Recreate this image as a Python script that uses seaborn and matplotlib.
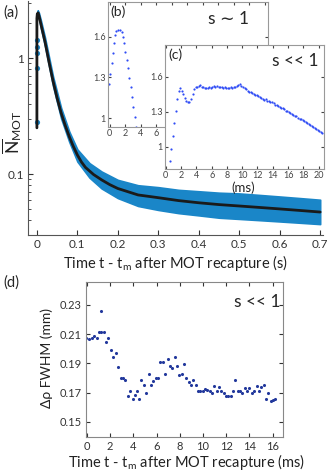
import numpy as np
import pandas as pd
import matplotlib
matplotlib.use("Agg")
import matplotlib.pyplot as plt
import matplotlib.ticker as mticker
import seaborn as sns

# ---------------- data ----------------
# (a) fit curve (black)
t_fit = [0.000, 0.000, 0.001, 0.003, 0.006, 0.010, 0.015, 0.020, 0.030, 0.040, 0.050,
         0.060, 0.070, 0.080, 0.090, 0.100, 0.110, 0.120, 0.140, 0.160, 0.180, 0.200, 0.250,
         0.300, 0.350, 0.400, 0.450, 0.500, 0.550, 0.600, 0.650, 0.700]
n_fit = [0.25, 2.20, 2.40, 2.45, 2.25, 1.95, 1.64, 1.38, 0.92, 0.63, 0.45,
         0.335, 0.262, 0.210, 0.173, 0.146, 0.127, 0.114, 0.099, 0.089, 0.081, 0.075, 0.066,
         0.0625, 0.059, 0.0565, 0.0545, 0.053, 0.0515, 0.050, 0.0485, 0.047]
# (a) measured data band (blue)
t_band = [0.002, 0.005, 0.010, 0.020, 0.040, 0.060, 0.080, 0.100, 0.130, 0.160, 0.200,
          0.250, 0.300, 0.350, 0.400, 0.450, 0.500, 0.550, 0.600, 0.650, 0.700]
band_hi = [2.58, 2.45, 2.10, 1.50, 0.69, 0.37, 0.232, 0.163, 0.124, 0.105, 0.089,
           0.080, 0.077, 0.073, 0.071, 0.069, 0.068, 0.066, 0.064, 0.062, 0.060]
band_lo = [2.30, 2.20, 1.80, 1.27, 0.57, 0.30, 0.189, 0.128, 0.093, 0.075, 0.062,
           0.053, 0.049, 0.046, 0.044, 0.042, 0.041, 0.040, 0.039, 0.038, 0.037]
t_early = [0.0, 0.0, 0.0, 0.0, 0.0]
n_early = [0.28, 0.82, 1.10, 1.24, 1.43]

# (b) s ~ 1
t_b = [-0.13, 0.08, 0.30, 0.43, 0.56, 0.65, 0.82, 1.08, 1.33, 1.59, 1.72, 1.85, 2.02,
       2.19, 2.37, 2.54, 2.71, 2.88, 3.05, 3.22, 3.36]
v_b = [1.25, 1.326, 1.405, 1.48, 1.553, 1.615, 1.64, 1.652, 1.652, 1.635, 1.60, 1.553, 1.49,
       1.43, 1.368, 1.294, 1.232, 1.158, 1.084, 1.01, 0.936]

# (c) s << 1
t_c = [round(0.3 + 0.2 * i, 1) for i in range(102)]
v_c = [0.80, 0.88, 0.98, 1.09, 1.20, 1.31, 1.41, 1.48, 1.50, 1.48,
       1.45, 1.42, 1.39, 1.38, 1.385, 1.41, 1.45, 1.49, 1.51, 1.515,
       1.52, 1.525, 1.515, 1.51, 1.505, 1.50, 1.505, 1.51, 1.505, 1.515,
       1.52, 1.515, 1.52, 1.51, 1.515, 1.51, 1.505, 1.51, 1.50, 1.505,
       1.50, 1.51, 1.505, 1.515, 1.51, 1.52, 1.53, 1.54, 1.52, 1.51,
       1.50, 1.49, 1.48, 1.47, 1.465, 1.46, 1.45, 1.44, 1.445, 1.43,
       1.425, 1.42, 1.41, 1.40, 1.405, 1.395, 1.39, 1.38, 1.385, 1.37,
       1.36, 1.355, 1.35, 1.34, 1.335, 1.33, 1.32, 1.31, 1.305, 1.30,
       1.29, 1.28, 1.275, 1.265, 1.26, 1.25, 1.24, 1.235, 1.225, 1.22,
       1.21, 1.20, 1.195, 1.185, 1.18, 1.17, 1.16, 1.155, 1.145, 1.135,
       1.125, 1.115]

# (d) FWHM
t_d = [-0.06, 0.17, 0.40, 0.60, 0.83, 1.04, 1.24, 1.18, 1.47, 1.61, 1.85, 2.05, 2.25, 2.48,
       2.68, 2.91, 3.12, 3.30, 3.50, 3.70, 3.93, 4.13, 4.33, 4.50, 4.70, 4.90, 5.10, 5.31,
       5.50, 5.70, 5.94, 6.14, 6.34, 6.54, 6.74, 6.95, 7.15, 7.35, 7.55, 7.76, 7.96, 8.16,
       8.36, 8.56, 8.77, 8.97, 9.17, 9.37, 9.57, 9.77, 9.97, 10.17, 10.37, 10.57, 10.77,
       10.98, 11.18, 11.38, 11.58, 11.78, 11.98, 12.19, 12.39, 12.59, 12.79, 12.99, 13.20,
       13.40, 13.60, 13.80, 14.00, 14.20, 14.40, 14.62, 14.82, 15.02, 15.22, 15.43, 15.63,
       15.83, 16.03, 16.23]
w_d = [0.2077, 0.2065, 0.2072, 0.2088, 0.2075, 0.2112, 0.2262, 0.2112, 0.2112, 0.2049, 0.2072,
       0.1995, 0.1943, 0.1972, 0.1873, 0.1803, 0.1803, 0.1784, 0.1679, 0.1714, 0.1656, 0.1686,
       0.1714, 0.1656, 0.1784, 0.1756, 0.1698, 0.1831, 0.1756, 0.1779, 0.1803, 0.1803, 0.1913,
       0.1913, 0.1826, 0.1932, 0.1885, 0.1866, 0.1943, 0.1885, 0.1819, 0.1826, 0.1896, 0.1803,
       0.1772, 0.1756, 0.1784, 0.1756, 0.1709, 0.1709, 0.1714, 0.1728, 0.1721, 0.1709, 0.1698,
       0.1744, 0.1709, 0.1737, 0.1709, 0.1698, 0.1679, 0.1679, 0.1679, 0.1709, 0.1784, 0.1714,
       0.1714, 0.1698, 0.1733, 0.1714, 0.1733, 0.1698, 0.1714, 0.1744, 0.1714, 0.1737, 0.1756,
       0.1656, 0.1698, 0.1640, 0.1651, 0.1656]

# ---------------- style ----------------
sns.set_style("ticks")
FONT = ["Lato", "DejaVu Sans"]
plt.rcParams["font.family"] = FONT
plt.rcParams["mathtext.fontset"] = "custom"
plt.rcParams["mathtext.rm"] = "Lato"
plt.rcParams["mathtext.it"] = "Lato:italic"

W, H = 332, 471
fig = plt.figure(figsize=(W / 100, H / 100), dpi=100)


def box(x0, y0, x1, y1):
    return [x0 / W, 1 - y1 / H, (x1 - x0) / W, (y1 - y0) / H]


BAND = "#1a86c8"
DOT = "#2f4cf5"
DOT_D = "#22389c"

# ---------------- (a) main ----------------
ax = fig.add_axes(box(28, 1, 323, 235))
ax.fill_between(t_band, band_lo, band_hi, color=BAND, lw=1.2, edgecolor=BAND, zorder=1)
sns.scatterplot(x=t_early, y=n_early, ax=ax, color=BAND, s=14, linewidth=0, zorder=2)
sns.lineplot(x=t_fit, y=n_fit, ax=ax, color="#1a1a1a", lw=2.0, sort=False,
             estimator=None, zorder=3)
ax.set_yscale("log")
ax.set_xlim(-0.022, 0.707)
ax.set_ylim(0.0298, 3.1)
ax.set_xticks([0, 0.1, 0.2, 0.3, 0.4, 0.5, 0.6, 0.7])
ax.set_xticklabels(["0", "0.1", "0.2", "0.3", "0.4", "0.5", "0.6", "0.7"])
ax.yaxis.set_major_locator(mticker.FixedLocator([0.1, 1]))
ax.yaxis.set_major_formatter(mticker.FixedFormatter(["0.1", "1"]))
ax.yaxis.set_minor_locator(mticker.LogLocator(base=10, subs=np.arange(2, 10)))
ax.yaxis.set_minor_formatter(mticker.NullFormatter())
ax.tick_params(axis="both", which="both", direction="in", labelsize=8.5, colors="#333333",
               pad=3)
ax.tick_params(axis="y", which="minor", length=2.5)
ax.tick_params(axis="both", which="major", length=3.5)
for s in ["top", "right"]:
    ax.spines[s].set_visible(False)
for s in ["left", "bottom"]:
    ax.spines[s].set_color("#555555")
ax.set_xlabel(r"Time t - t$_{\rm m}$ after MOT recapture (s)", fontsize=10.5, color="#222222")
ax.xaxis.set_label_coords(0.50, -0.075)
ax.set_ylabel(r"$\overline{\rm N}_{\rm MOT}$", fontsize=12.5, color="#222222")
ax.yaxis.set_label_coords(-0.012, 0.44)


def inset_style(a):
    a.set_facecolor("white")
    for s in a.spines.values():
        s.set_color("#999999")
        s.set_linewidth(0.8)
    a.tick_params(axis="both", which="both", direction="in", labelsize=6.5,
                  colors="#444444", length=2, pad=1.5, top=True, right=True)
    a.set_xlabel("")
    a.set_ylabel("")


# ---------------- (b) inset ----------------
axb = fig.add_axes(box(108, 2, 268, 127))
sns.scatterplot(x=t_b, y=v_b, ax=axb, color=DOT, s=2.5, linewidth=0)
axb.set_xlim(-0.2, 20.4)
axb.set_ylim(0.934, 1.856)
axb.set_xticks(np.arange(0, 21, 2))
axb.set_yticks([1, 1.3, 1.6])
axb.set_yticklabels(["1", "1.3", "1.6"])
inset_style(axb)
axb.text(0.015, 0.975, "(b)", transform=axb.transAxes, ha="left", va="top", fontsize=10)
axb.text(0.75, 0.86, "s \u223c 1", transform=axb.transAxes, ha="center", va="center",
         fontsize=12.5, family=FONT)

# ---------------- (c) inset ----------------
axc = fig.add_axes(box(165, 45, 324, 169))
sns.scatterplot(x=t_c, y=v_c, ax=axc, color=DOT, s=2.5, linewidth=0)
axc.set_xlim(-0.1, 20.7)
axc.set_ylim(0.81, 1.87)
axc.set_xticks(np.arange(0, 21, 2))
axc.set_yticks([1, 1.3, 1.6])
axc.set_yticklabels(["1", "1.3", "1.6"])
inset_style(axc)
axc.text(0.02, 0.97, "(c)", transform=axc.transAxes, ha="left", va="top", fontsize=10)
axc.text(0.82, 0.87, "s << 1", transform=axc.transAxes, ha="center", va="center",
         fontsize=12.5)
axc.text(0.49, -0.15, "(ms)", transform=axc.transAxes, ha="center", va="center",
         fontsize=9.5)

fig.text(3 / W, 1 - 13 / H, "(a)", ha="left", va="center", fontsize=10.5)

# ---------------- (d) ----------------
axd = fig.add_axes(box(86, 282, 283, 437))
sns.scatterplot(x=t_d, y=w_d, ax=axd, color=DOT_D, s=5, linewidth=0)
axd.set_xlim(-0.08, 16.9)
axd.set_ylim(0.1397, 0.2457)
axd.set_xticks(np.arange(0, 17, 2))
axd.set_yticks([0.15, 0.17, 0.19, 0.21, 0.23])
axd.set_yticklabels(["0.15", "0.17", "0.19", "0.21", "0.23"])
axd.yaxis.set_minor_locator(mticker.MultipleLocator(0.01))
axd.xaxis.set_minor_locator(mticker.MultipleLocator(1))
axd.tick_params(axis="both", which="both", direction="in", labelsize=8, colors="#333333",
                top=True, right=True, pad=3)
axd.tick_params(axis="both", which="major", length=3)
axd.tick_params(axis="both", which="minor", length=0)
for s in axd.spines.values():
    s.set_color("#888888")
    s.set_linewidth(0.8)
axd.set_xlabel(r"Time t - t$_{\rm m}$ after MOT recapture (ms)", fontsize=10.5,
               color="#222222")
axd.xaxis.set_label_coords(0.51, -0.095)
axd.set_ylabel("\u0394\u03c1 FWHM (mm)", fontsize=10, color="#222222")
axd.yaxis.set_label_coords(-0.17, 0.51)
axd.text(0.87, 0.87, "s << 1", transform=axd.transAxes, ha="center", va="center",
         fontsize=12.5)
fig.text(3 / W, 1 - 283 / H, "(d)", ha="left", va="center", fontsize=10.5)

fig.savefig("out.png", dpi=100)
